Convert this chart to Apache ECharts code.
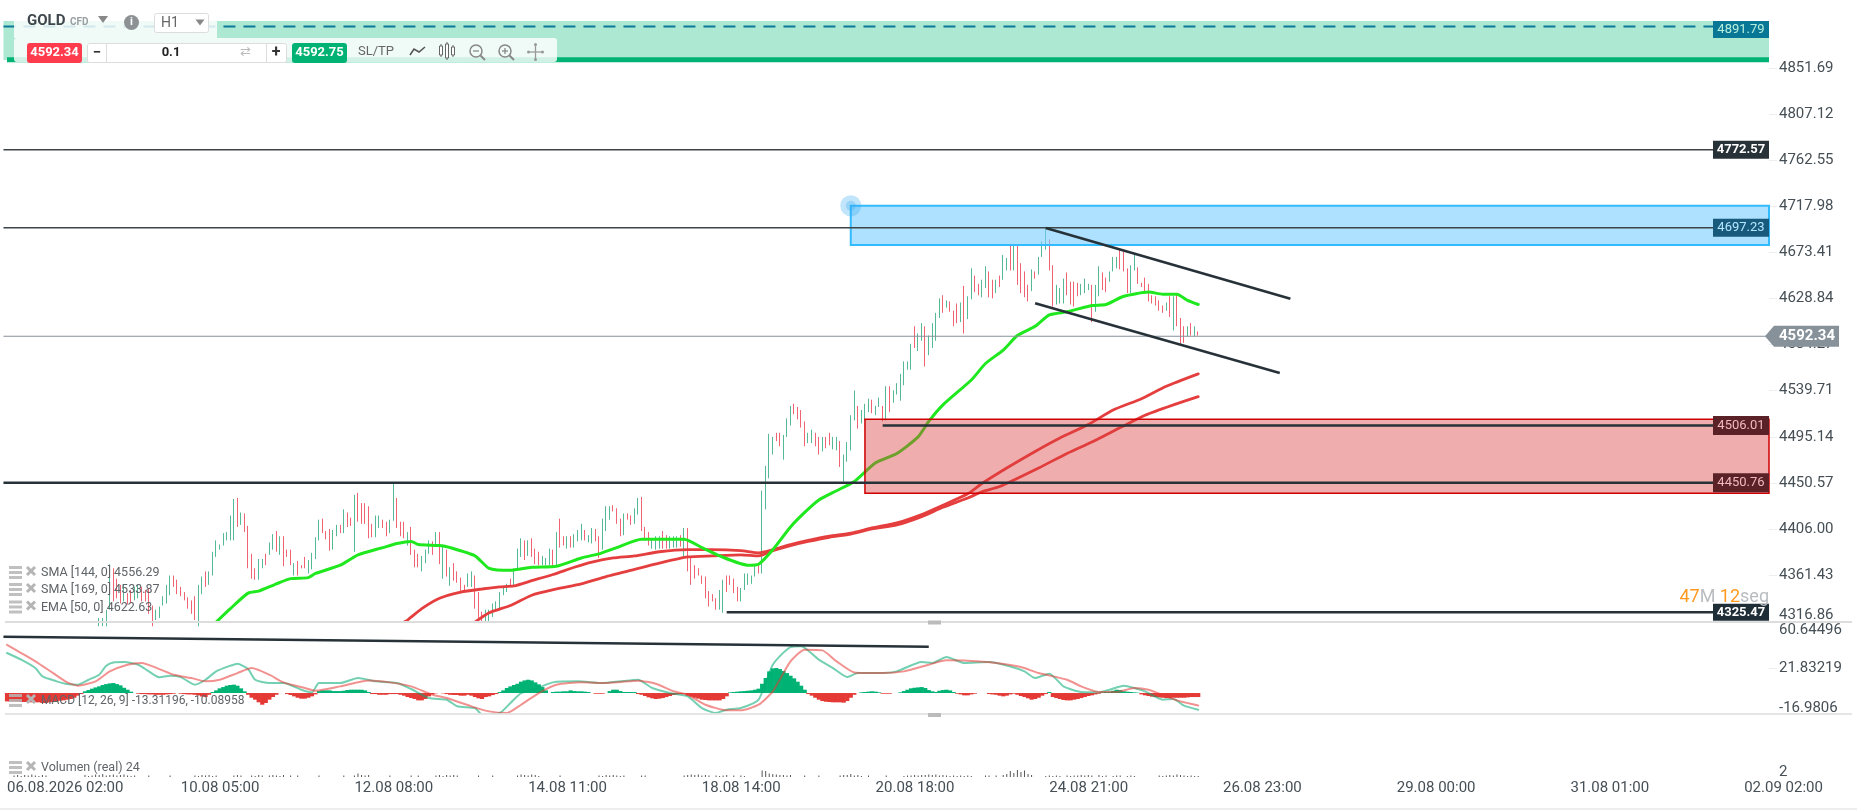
<!DOCTYPE html>
<html><head><meta charset="utf-8">
<style>html,body{margin:0;padding:0;background:#fff}#c{width:1857px;height:810px}</style>
<script src="https://cdn.jsdelivr.net/npm/echarts@6/dist/echarts.min.js"></script>
</head><body><div id="c"></div>
<script>
// ---- data ----
const firstBar = 26;   // earlier bars lie below the visible price range
const barHigh = [
4320,4320,4328,4372,4368,4358,4352,4352,4344,4347,
4350,4352,4350,4347,4349,4332,4328,4331,4341,4352,
4361,4361,4357,4350,4345,4340,4337,4341,4352,4360,
4365,4365,4384,4395,4391,4402,4403,4419,4435,4436,
4422,4421,4409,4382,4368,4377,4377,4382,4393,4401,
4404,4399,4399,4386,4386,4373,4375,4371,4379,4376,
4383,4398,4415,4416,4404,4406,4405,4410,4410,4425,
4422,4417,4439,4441,4431,4431,4428,4411,4419,4419,
4415,4413,4415,4450,4436,4413,4413,4403,4408,4386,
4382,4380,4386,4395,4394,4403,4403,4391,4386,4369,
4373,4365,4359,4352,4363,4365,4361,4345,4326,4328,
4328,4334,4336,4345,4349,4353,4358,4368,4387,4397,
4395,4395,4397,4387,4384,4380,4378,4387,4386,4403,
4416,4399,4399,4399,4401,4405,4411,4405,4400,4407,
4406,4399,4416,4428,4428,4429,4426,4416,4421,4421,
4419,4426,4436,4437,4408,4403,4397,4399,4399,4404,
4400,4399,4399,4399,4400,4407,4407,4379,4371,4368,
4361,4360,4346,4343,4339,4347,4357,4361,4361,4358,
4350,4349,4363,4363,4361,4371,4373,4443,4467,4498,
4495,4499,4499,4497,4513,4525,4527,4524,4521,4510,
4499,4502,4499,4495,4495,4495,4499,4495,4495,4491,
4478,4490,4516,4540,4525,4521,4527,4532,4531,4525,
4533,4525,4544,4544,4540,4547,4556,4568,4568,4585,
4602,4595,4605,4602,4593,4605,4615,4629,4632,4627,
4626,4617,4624,4625,4641,4631,4658,4651,4643,4647,
4660,4655,4647,4647,4651,4671,4668,4680,4680,4680,
4663,4655,4642,4657,4655,4669,4684,4697,4686,4661,
4642,4639,4648,4654,4645,4645,4644,4643,4648,4643,
4642,4642,4660,4654,4649,4655,4669,4669,4676,4674,
4658,4661,4671,4659,4644,4649,4643,4632,4631,4627,
4622,4625,4631,4631,4634,4610,4602,4602,4605,4602,4597];
const barLow = [
4312,4312,4312,4328,4336,4339,4334,4336,4333,4334,
4337,4339,4336,4336,4324,4312,4318,4320,4332,4334,
4342,4350,4343,4341,4337,4329,4324,4318,4312,4343,
4350,4352,4361,4379,4386,4390,4395,4395,4395,4408,
4410,4403,4368,4358,4357,4357,4368,4371,4381,4386,
4384,4381,4370,4379,4371,4361,4361,4368,4368,4363,
4367,4377,4395,4402,4396,4385,4386,4399,4402,4402,
4408,4409,4384,4413,4411,4411,4397,4398,4398,4407,
4407,4399,4402,4414,4407,4399,4397,4390,4381,4369,
4369,4365,4373,4382,4381,4390,4372,4358,4360,4351,
4356,4354,4344,4345,4350,4350,4329,4320,4316,4316,
4317,4321,4326,4329,4342,4345,4350,4350,4368,4379,
4376,4380,4379,4372,4371,4371,4371,4371,4369,4370,
4388,4390,4387,4388,4388,4394,4395,4395,4393,4392,
4394,4378,4386,4404,4415,4423,4411,4399,4400,4415,
4410,4411,4420,4404,4395,4390,4387,4386,4387,4387,
4387,4387,4388,4388,4389,4379,4365,4352,4358,4361,
4353,4339,4331,4336,4328,4328,4325,4345,4352,4344,
4336,4336,4347,4352,4353,4360,4363,4363,4425,4455,
4478,4491,4486,4473,4495,4506,4517,4512,4504,4486,
4489,4489,4486,4478,4481,4484,4487,4483,4482,4466,
4452,4471,4482,4511,4503,4508,4511,4519,4518,4516,
4524,4510,4511,4519,4528,4536,4530,4545,4560,4560,
4581,4578,4588,4563,4574,4581,4588,4610,4615,4620,
4616,4602,4605,4606,4595,4609,4628,4635,4632,4630,
4639,4630,4629,4634,4640,4647,4656,4656,4656,4642,
4634,4630,4626,4636,4648,4652,4669,4676,4656,4621,
4623,4624,4624,4632,4623,4621,4631,4632,4634,4637,
4606,4616,4631,4637,4635,4645,4655,4658,4657,4655,
4634,4634,4656,4643,4640,4634,4626,4624,4622,4617,
4615,4617,4611,4598,4602,4585,4586,4592,4593,4592,4593];
const barDir = [
"uuuudddudd","uudddduuuu","uddddddduu","duuuuuuuud","udddduuduu",
"dudddudddu","uuuddduudu","dduddddduu","dduudddudd","duuudududu",
"dddduudddu","uuuuuuduuu","duddduuudu","dduduuuduu","dduuudddud",
"duuddduuud","duuududddd","ddddduuddd","duuuuuduuu","udduuudddd",
"uuddudduud","uuuuduuudu","ududuuuuuu","duuduuuudu","ddduduuddu",
"udduduudud","ddduduuudd","uuudddduuu","duudduuudd","duuddddddd","dududddudud"].join("");

// [bar index, value] points traced along each indicator
const ema50 = [[59,4316],[63,4329],[68,4344],[71,4346],[76,4353],[80,4358],[85,4359],[87,4363],[94,4371],[99,4381],[106,4388],[110,4392],[114,4394],[116,4391],[122,4390],[125,4388],[132,4380],[136,4368],[142,4366],[148,4369],[155,4370],[162,4378],[167,4382],[172,4388],[179,4396],[191,4396],[196,4388],[201,4380],[209,4371],[212,4372],[216,4386],[221,4408],[225,4422],[229,4434],[234,4443],[239,4452],[245,4470],[251,4479],[257,4495],[260,4510],[264,4526],[272,4550],[276,4566],[281,4579],[285,4593],[290,4602],[294,4613],[299,4616],[306,4622],[310,4623],[315,4631],[322,4635],[326,4633],[330,4633],[333,4627],[336,4623]];
const sma144 = [[112,4316],[113,4318],[117,4329],[122,4339],[128,4345],[134,4348],[139,4350],[143,4351],[148,4356],[154,4362],[160,4369],[165,4374],[171,4378],[177,4380],[184,4384],[192,4386],[199,4386],[207,4385],[212,4383],[216,4386],[221,4391],[226,4395],[232,4399],[238,4402],[244,4407],[251,4412],[258,4420],[264,4429],[271,4440],[275,4450],[282,4465],[290,4481],[297,4494],[305,4507],[312,4521],[320,4532],[327,4544],[336,4556]];
const sma169 = [[132,4316],[136,4325],[142,4332],[148,4342],[155,4348],[162,4353],[169,4360],[177,4367],[184,4373],[192,4379],[199,4380],[207,4381],[212,4380],[216,4385],[221,4390],[226,4394],[232,4398],[238,4401],[244,4406],[251,4410],[258,4418],[264,4427],[271,4436],[275,4442],[280,4447],[291,4465],[299,4479],[306,4490],[314,4504],[321,4516],[329,4526],[336,4534]];
const macdLine = [[0,34.9],[4,29.1],[8,21.8],[10,14.5],[14,10.2],[17,7.8],[20,7.3],[23,11.6],[26,16],[28,23.8],[30,26.7],[33,27],[37,24.7],[40,18.9],[43,13.7],[46,15.1],[49,13.9],[53,7.3],[56,11.6],[59,18.9],[63,23.8],[65,25.6],[68,20.9],[70,11.6],[74,8.7],[78,8.7],[83,2.9],[86,0.6],[88,8.7],[94,8.7],[99,13.1],[104,10.2],[110,8.7],[114,3.5],[119,-4.4],[124,-5.8],[127,-11.6],[132,-13.1],[134,-18.9],[139,-17.4],[142,-8.7],[145,0],[149,3.5],[154,9.3],[161,10.2],[168,8.7],[173,10.2],[178,11.6],[182,4.4],[187,0],[192,-2.9],[196,-13.1],[200,-17.4],[203,-14.5],[207,-13.1],[212,-5.8],[216,24.7],[221,40.1],[224,40.7],[229,29.1],[233,21.8],[237,13.9],[240,17.4],[247,17.4],[251,18.9],[258,27],[261,26.2],[265,31.4],[270,26.2],[277,27],[283,23.2],[287,18.9],[290,13.1],[294,16.9],[298,5.8],[303,0.9],[308,0.6],[311,2.9],[315,6.4],[318,4.4],[321,1.5],[326,-5.8],[329,-5.2],[332,-11],[336,-14.5]];
const macdSignal = [[0,42.1],[4,34.9],[8,27.6],[13,17.4],[17,9.3],[20,6.4],[25,10.2],[29,18.9],[34,24.7],[38,26.2],[43,20.9],[47,16],[52,13.1],[56,10.2],[60,11.6],[65,17.4],[69,21.8],[74,16],[78,9.3],[84,4.4],[87,2],[94,5.8],[102,11],[108,9.3],[114,5.8],[120,-1.5],[124,-4.4],[131,-11.6],[136,-16],[141,-17.4],[145,-10.2],[150,0],[155,7.3],[162,9.3],[169,8.7],[173,9.6],[178,10.8],[183,8.1],[188,1.5],[192,-1.5],[197,-10.2],[203,-15.1],[207,-15.1],[212,-10.2],[216,1.5],[221,27.6],[225,37.8],[230,37.2],[234,27.6],[239,18],[247,17.4],[253,18.9],[260,24.7],[265,28.5],[271,28.2],[279,26.2],[286,22.7],[291,17.4],[299,11.6],[303,5.8],[308,0.9],[313,0.9],[318,4.4],[322,2.9],[327,-2.9],[331,-7.3],[336,-10.8]];
const macdHist = [
-7.3,-7.3,-7.3,-7.5,-7.8,-7.8,-7.8,-8.1,-8.1,-8.1,-8.7,-8.7,-8.1,-7.8,-7.3,-6.7,-6.4,-5.8,-5.2,-4.1,-2.3,-.9,
1.5,2.6,3.8,4.9,5.8,7,7.8,8.4,8.7,7.8,6.7,4.6,2.9,1.2,
0,
-.6,-.9,-.9,-1.2,-1.2,-1.5,-1.5,-1.5,-1.2,-.9,-.6,
0,
-.6,-.9,-1.2,-1.2,-1.5,-2,-3,-3.5,-1.5,
.9,2.3,4.1,5.2,6.4,7,7.3,6.4,4.1,1.5,
-1.5,-4.1,-5.8,-8.1,-10.2,-8.7,-5.8,-3.5,-1.5,
0,0,
-.9,-1.7,-2.9,-4.1,-4.9,-4.9,-4.1,-2.9,-1.2,
1.7,2.3,2.3,2.3,1.7,1.7,1.7,2,2.6,2.9,2.9,2.9,2.9,2.3,.9,
-.9,-.9,-1.5,-1.5,-1.5,-.9,-.9,-.9,-1.5,-2.3,-3.5,-4.4,-5.2,-6.4,-6.4,-5.2,-2.9,-1.2,
-.3,0,-.3,
-.9,-1.5,-1.7,-1.7,-2.3,-2.3,-1.5,-2.3,-3.5,-4.6,-5.2,-3.5,-2.9,-1.7,-.9,
.9,2.3,4.4,5.8,7,8.1,9.9,11,11.6,11,9.3,7.6,5.2,2.3,
0,
.9,1.2,1.2,1.5,1.5,2.3,1.7,1.5,1.5,1.2,.9,
0,
-.6,-.6,-.6,
0,
1.7,2.9,2.9,
1.7,.9,.9,.9,.9,
-.9,-1.5,-2.6,-3.8,-4.6,-5.2,-4.9,-4.4,-3.5,-2.6,-1.7,-1.2,-.9,-.6,
-2.3,-3.2,-4.1,-4.9,-5.8,-6.1,-6.4,-6.4,-6.4,-6.4,-5.2,-2.9,
.6,.9,1.2,1.5,1.7,2,2.3,2.9,3.8,8.1,13.1,18.9,21.5,21.8,20.9,19.2,17.4,15.1,12.8,9.9,6.4,2.9,
-.9,-2.3,-4.1,-5.8,-7,-7.6,-7.8,-8.1,-8.1,-8.1,-8.4,-7,-4.1,-1.5,
0,
.6,.9,1.2,1.5,1.2,.6,
-.6,-.6,-.6,
0,0,
.6,1.7,2.9,4.1,4.6,4.9,5.2,4.4,2.6,1.5,.9,2,2.6,2.9,2.3,.9,
-.6,-1.2,-2,-2,-1.2,-.6,
0,0,0,
-.9,-1.2,-1.5,-2.3,-2.9,-2.3,-1.2,-.6,
-1.5,-2.6,-3.5,-4.6,-5.8,-5.2,-4.1,-2.3,-.9,
.9,
-3.5,-4.4,-5.2,-6.1,-6.4,-6.4,-5.8,-5.2,-4.4,-3.5,-2.6,-2,-1.2,-.6,
.6,.9,1.2,2,2.9,2.6,1.5,1.2,.9,.6,.3,
-1.2,-2,-2.6,-3.2,-3.5,-3.8,-4.1,-4.4,-4.4,-4.1,-4.1,-4.1,-4.1,-3.8,-3.5,-3.5,-3.5];
const volumes = [
0,0,.6,.8,.4,.8,.6,1,.6,.4,.8,.6,0,0,0,0,0,0,0,0,0,0,
.8,.4,.6,1,.8,1.2,.6,.8,1,.6,.8,1,.6,.4,.6,0,0,0,.6,0,0,0,0,0,.6,0,0,0,0,0,0,
.6,.4,.8,.6,.8,.4,.6,0,0,0,0,.6,.8,.6,0,0,.6,.4,.8,.6,0,.6,.8,.6,.4,.8,0,.6,0,.6,0,0,0,0,0,.6,
0,0,0,0,0,0,.6,0,0,.6,1.4,.8,.6,.8,0,0,0,0,0,.6,0,0,0,0,0,.6,0,.6,0,0,0,0,
.6,.8,.4,.8,.6,.8,.6,0,0,0,0,0,.6,0,0,0,.6,0,0,0,0,0,0,.6,1,.8,.6,1,.8,.4,0,0,0,0,0,.6,
0,0,0,0,0,0,0,0,0,0,.6,.4,.8,.6,.8,.6,.4,.6,0,0,0,0,.6,.6,0,0,0,0,0,0,0,0,0,0,
.6,.8,1,.8,1,.6,.8,.6,0,.6,.4,.6,.8,0,.6,0,.6,.4,0,0,0,0,
2.6,2.4,1.4,1.2,1,.8,.8,.6,.8,0,0,0,.6,0,0,0,.6,0,0,0,0,0,
.6,.8,.8,1.2,.6,.8,.4,0,.6,0,0,0,0,.6,0,0,0,0,
.4,.6,.6,.8,.6,.8,.8,1,.8,1,.6,.8,.6,.4,.6,.4,.6,.4,.6,.4,0,0,0,.6,.6,0,.6,0,
.8,1.2,2.4,1.6,2.8,2,2.6,1.2,.8,0,0,0,
.4,.6,.4,.6,.4,0,.6,.4,.6,.6,.8,.6,.8,.6,0,.8,.4,.6,0,.4,.6,.6,0,.4,.6,.4,0,0,0,0,0,0,
.6,.4,.6,.8,.6,1,.8,.6,.4,.6,.4,.4];
const xTickLabels = ["06.08.2026 02:00","10.08 05:00","12.08 08:00","14.08 11:00","18.08 14:00","20.08 18:00","24.08 21:00","26.08 23:00","29.08 00:00","31.08 01:00","02.09 02:00"];
const priceTicks = [4361.43,4406.00,4450.57,4495.14,4539.71,4584.27,4628.84,4673.41,4717.98,4762.55,4807.12,4851.69];
const priceBottomTick = 4316.86;
const macdTopTick = "60.64496", macdMidTick = 21.83219, macdBottomTick = "-16.9806";
const volumeTicks = [2];
const currentPrice = 4592.34, askPrice = 4592.75;
const levelTags = [4891.79,4772.57,4697.23,4506.01,4450.76,4325.47];
const upperChannel = [[294,4697],[363,4628.7]];
const lowerChannel = [[291,4624.2],[360,4556.8]];
const macdTrend = [[0,49.1],[261,40.4]];
const zoneGreen = [4859.5,4897.1], zoneBlue = [4680.5,4718.5], zoneRed = [4440.5,4512];

// ---- layout ----
const N = 499, LEFT = 3.45, RIGHT = 1769;
const cats = []; for (let k=0;k<N;k++) cats.push((k-1)%49===0 && k>0 ? xTickLabels[(k-1)/49]||'' : '');
const isTick = k => k>0 && (k-1)%49===0;
const shift = a => a.map(p=>[p[0]+1,p[1]]);
const candle = cats.map((_,k)=>{
  const j=k-1-firstBar;
  if(j<0||j>=barHigh.length) return ['-','-','-','-'];
  return barDir[j]==='u' ? [barLow[j],barHigh[j],barLow[j],barHigh[j]] : [barHigh[j],barLow[j],barLow[j],barHigh[j]];
});
const FONT = 'Roboto';
const flat = (k0,p,color,width,type) => ({type:'line',xAxisIndex:0,yAxisIndex:0,data:[[k0,p],[N-1,p]],symbol:'none',silent:true,z:6,lineStyle:{color,width,type:type||'solid'}});
const seg = (pts,color,w,xi,yi) => ({type:'line',xAxisIndex:xi,yAxisIndex:yi,data:pts,symbol:'none',silent:true,z:6,lineStyle:{color,width:w}});
const curve = (pts,color,w,xi,yi,z) => ({type:'line',xAxisIndex:xi,yAxisIndex:yi,data:shift(pts),symbol:'none',silent:true,smooth:.2,z:z,lineStyle:{color,width:w,cap:'round'}});
const zone = (k0,band,fill,border,bw,z) => ({type:'line',xAxisIndex:0,yAxisIndex:0,data:[],silent:true,z:z||4,
  markArea:{silent:true,z:z||4,itemStyle:{color:fill,borderColor:border,borderWidth:bw},data:[[{xAxis:k0,yAxis:band[1]},{xAxis:N-1,yAxis:band[0]}]]}});

const baseX = i => ({type:'category',gridIndex:i,data:cats,boundaryGap:false,axisLine:{show:false},axisTick:{show:false},axisLabel:{show:false},splitLine:{show:false},axisPointer:{show:false}});
const labelStyle = {color:'#454f55',fontFamily:FONT,fontSize:15,margin:10};
const option = {
  animation:false, backgroundColor:'#fff',
  grid:[
    {left:LEFT,width:RIGHT-LEFT,top:21,height:600.2},
    {left:LEFT,width:RIGHT-LEFT,top:623.5,height:89},
    {left:LEFT,width:RIGHT-LEFT,top:714,height:63}],
  xAxis:[baseX(0),baseX(1),Object.assign(baseX(2),{
    axisLabel:{show:true,interval:(k)=>isTick(k),align:'left',color:'#454f55',fontFamily:FONT,fontSize:15,margin:4,hideOverlap:false,showMinLabel:true,showMaxLabel:true},
    axisTick:{show:false}})],
  yAxis:[
    {type:'value',gridIndex:0,position:'right',min:4316.86,max:4897.1,splitLine:{show:false},axisLine:{show:false},
     axisTick:{show:true,length:8,lineStyle:{color:'#eeeeee'},customValues:priceTicks.concat([priceBottomTick])},
     axisLabel:Object.assign({},labelStyle,{customValues:priceTicks,formatter:v=>v.toFixed(2)})},
    {type:'value',gridIndex:1,position:'right',min:-16.9806,max:60.64496,splitLine:{show:false},axisLine:{show:false},
     axisTick:{show:true,length:8,lineStyle:{color:'#eeeeee'},customValues:[macdMidTick]},
     axisLabel:Object.assign({},labelStyle,{customValues:[macdMidTick],formatter:v=>String(v)})},
    {type:'value',gridIndex:2,position:'right',min:0,max:25.2,splitLine:{show:false},axisLine:{show:false},
     axisTick:{show:false},
     axisLabel:Object.assign({},labelStyle,{customValues:volumeTicks,formatter:v=>String(v)})}
  ],
  series:[
    {type:'candlestick',xAxisIndex:0,yAxisIndex:0,data:candle,barWidth:1,silent:true,z:2,
     itemStyle:{color:'#55b995',color0:'#ef6373',borderColor:'#55b995',borderColor0:'#ef6373',borderWidth:1}},
    curve(sma144,'#e53e3e',2.8,0,0,3),
    curve(sma169,'#e53e3e',2.8,0,0,3),
    curve(ema50,'#1fe81f',3,0,0,3),
    zone(0,zoneGreen,'#ade8d3','transparent',0,1),
    zone(239,zoneBlue,'rgba(120,205,255,.6)','#33bbff',2),
    zone(243,zoneRed,'rgba(220,60,60,.42)','#d00000',1.5),
    flat(1,4859.7,'#00b374',5),
    flat(0,levelTags[0],'#0b7a99',2,[12,8]),
    flat(0,levelTags[1],'#3d4549',1.4),
    flat(0,levelTags[2],'#3d4549',1.4),
    flat(0,currentPrice,'#87919a',1.2),
    flat(0,levelTags[4],'#263238',2.6),
    flat(248,levelTags[3],'#263238',2.6),
    flat(204,levelTags[5],'#263238',2.6),
    seg(upperChannel,'#263238',2.6,0,0),
    seg(lowerChannel,'#263238',2.6,0,0),
    {type:'scatter',xAxisIndex:0,yAxisIndex:0,data:[[239,4718.5]],symbolSize:21,silent:true,z:7,itemStyle:{color:'rgba(51,170,240,.38)'}},
    {type:'scatter',xAxisIndex:0,yAxisIndex:0,data:[[239,4718.5]],symbolSize:10,silent:true,z:7,itemStyle:{color:'rgba(51,170,240,.35)'}},
    {type:'bar',xAxisIndex:1,yAxisIndex:1,data:macdHist.map((v,i)=>[i+1,v]),barWidth:4.2,silent:true,z:2,
     itemStyle:{color:p=>p.value[1]>=0?'#00b374':'#e53935'}},
    curve(macdLine,'rgba(0,170,115,.55)',2,1,1,3),
    curve(macdSignal,'rgba(229,57,53,.55)',2,1,1,3),
    seg(macdTrend,'#263238',2.6,1,1),
    {type:'bar',xAxisIndex:2,yAxisIndex:2,data:volumes.map((v,i)=>[i+1,v]),barWidth:1,silent:true,itemStyle:{color:'#555'}}
  ]
};
const chart = echarts.init(document.getElementById('c'),null,{renderer:'canvas'});
chart.setOption(option);

// ---- overlays ----
const Z=30;
const rect=(x,y,w,h,fill,o={})=>({type:'rect',silent:true,z:o.z||Z,shape:{x,y,width:w,height:h,r:o.r||0},style:{fill,stroke:o.stroke||null,lineWidth:o.lw||0,opacity:o.op==null?1:o.op}});
const line=(x1,y1,x2,y2,stroke,lw,z)=>({type:'line',silent:true,z:z||Z,shape:{x1,y1,x2,y2},style:{stroke,lineWidth:lw}});
const tri=(x,y,w,h,fill)=>({type:'polygon',silent:true,z:Z,shape:{points:[[x-w/2,y-h/2],[x+w/2,y-h/2],[x,y+h/2]]},style:{fill}});
const circ=(cx,cy,r,o)=>({type:'circle',silent:true,z:Z,shape:{cx,cy,r},style:o});
const txt=(x,y,text,fill,size,o={})=>({type:'text',silent:true,z:o.z||Z+1,style:{x,y,text,fill,font:(o.weight||'normal')+' '+size+'px '+FONT,align:o.align||'left',verticalAlign:'middle'}});
const g=[];
// shifted axis end labels
g.push(txt(1779,615,priceBottomTick.toFixed(2),'#454f55',15),txt(1779,630,macdTopTick,'#454f55',15),txt(1779,708,macdBottomTick,'#454f55',15));
// separators
g.push(line(5,622,1852,622,'#dddddd',2,10),line(5,714,1852,714,'#dddddd',1.5,10),line(0,809,1857,809,'#eeeeee',2,10));
g.push(rect(928,620.5,13,4,'#bbbbbb',{z:11}),rect(928,713,13,4,'#bbbbbb',{z:11}));
// toolbar panels
g.push(rect(14,21,203,17,'rgba(255,255,255,.82)',{z:20}),rect(14,38,543,24,'rgba(255,255,255,.82)',{r:3,z:20}));
g.push(txt(27,21,'GOLD','#3f474c',15,{weight:'bold'}),txt(70,22,'CFD','#9a9fa3',10,{weight:'bold'}));
g.push(tri(103,19.5,10,7,'#888'));
g.push(circ(131.5,22.5,7.5,{fill:'#8d9194'}),txt(131.5,22.5,'i','#fff',11,{weight:'bold',align:'center'}));
g.push(rect(154.5,13.5,54,19,'#fff',{stroke:'#dddddd',lw:1,r:2}),txt(161,23.5,'H1','#666',14),tri(200,22.5,9,6,'#888'));
g.push(rect(27,43,55,20,'#ff3b4e',{r:3}),txt(54.5,53,currentPrice.toFixed(2),'#fff',13,{weight:'bold',align:'center'}));
g.push(rect(87.5,43.5,199,19,'#fff',{stroke:'#dddddd',lw:1,r:2}),line(106.5,44,106.5,62,'#dddddd',1),line(266.5,44,266.5,62,'#dddddd',1));
g.push(txt(97,53,'−','#333',15,{weight:'bold',align:'center'}),txt(171,53,'0.1','#222',13,{weight:'bold',align:'center'}),txt(276,53,'+','#333',16,{weight:'bold',align:'center'}),txt(245,53,'⇄','#bbb',13,{align:'center'}));
g.push(rect(292,43,55,20,'#00b374',{r:3}),txt(319.5,53,askPrice.toFixed(2),'#fff',13,{weight:'bold',align:'center'}));
g.push(txt(358,52,'SL/TP','#666',13));
g.push({type:'polyline',silent:true,z:Z,shape:{points:[[410,55],[414,49],[419,52],[425,47]]},style:{stroke:'#555',lineWidth:1.6,fill:null}});
[[441,46,9],[447,44,14],[453,47,8]].forEach(a=>g.push(line(a[0],a[1]-2,a[0],a[1]+a[2]+2,'#666',1),rect(a[0]-1.5,a[1],3,a[2],'#fff',{stroke:'#666',lw:1})));
[[476,0],[505,1]].forEach(a=>{g.push(circ(a[0],51,6,{fill:null,stroke:'#888',lineWidth:1.5}),line(a[0]+4.5,55.5,a[0]+9,60,'#888',2),line(a[0]-3,51,a[0]+3,51,'#888',1.3));if(a[1])g.push(line(a[0],48,a[0],54,'#888',1.3));});
g.push(line(528,52,543,52,'#999',1.3),line(535.5,44,535.5,60,'#999',1.3),circ(528.5,52,1.5,{fill:'#999'}),circ(542.5,52,1.5,{fill:'#999'}),circ(535.5,44.5,1.5,{fill:'#999'}),circ(535.5,59.5,1.5,{fill:'#999'}));
// legend rows
const legendRow=(y,t,size)=>{
  [0,5,10].forEach(d=>g.push(rect(9,y-7+d,13,3,'#b5b5b5',{op:.85})));
  g.push(line(27,y-6,35,y+2,'#b5b5b5',3),line(35,y-6,27,y+2,'#b5b5b5',3));
  g.push(txt(41,y,t,'#5f6468',size||12.5));
};
legendRow(573,'SMA [144, 0] 4556.29');legendRow(590,'SMA [169, 0] 4533.87');legendRow(607.5,'EMA [50, 0] 4622.63');
legendRow(701,'MACD [12, 26, 9] -13.31196, -10.08958',12);legendRow(768,'Volumen (real) 24');
// level tags from the price axis
const yOf=p=>chart.convertToPixel({yAxisIndex:0},p);
const tagX=1713,tagW=56;
const tag=(p,h,bg,fg,weight)=>{const y=yOf(p);const top=Math.max(21,y-h/2);g.push(rect(tagX,top,tagW,h,bg,{z:25}),txt(tagX+28,top+h/2,p.toFixed(2),fg,13,{align:'center',weight,z:26}));};
tag(levelTags[0],17,'#087796','#b8f0de');
tag(levelTags[1],18,'#263238','#fff','bold');
tag(levelTags[2],18,'#175a7c','#b5e6ff');
tag(levelTags[3],19,'#5a2226','#f3b8c0');
tag(levelTags[4],19,'#5a2226','#f3b8c0');
tag(levelTags[5],17,'#1f2d36','#fff','bold');
// current price tag
const cy=yOf(currentPrice);
g.push({type:'polygon',silent:true,z:25,shape:{points:[[1765,cy],[1774,cy-10.5],[1839,cy-10.5],[1839,cy+10.5],[1774,cy+10.5]]},style:{fill:'#87919a'}});
g.push(txt(1779,cy,currentPrice.toFixed(2),'#fff',15,{weight:'bold',z:26}));
// countdown
g.push({type:'text',silent:true,z:26,style:{x:1769,y:597,align:'right',verticalAlign:'middle',text:'{o|47}{g|M }{o|12}{g|seg}',font:'18px '+FONT,rich:{o:{fill:'#ff9a1f',font:'18px '+FONT},g:{fill:'#b9bdc0',font:'18px '+FONT}}}});
chart.setOption({graphic:{elements:g}});
</script>
</body></html>
